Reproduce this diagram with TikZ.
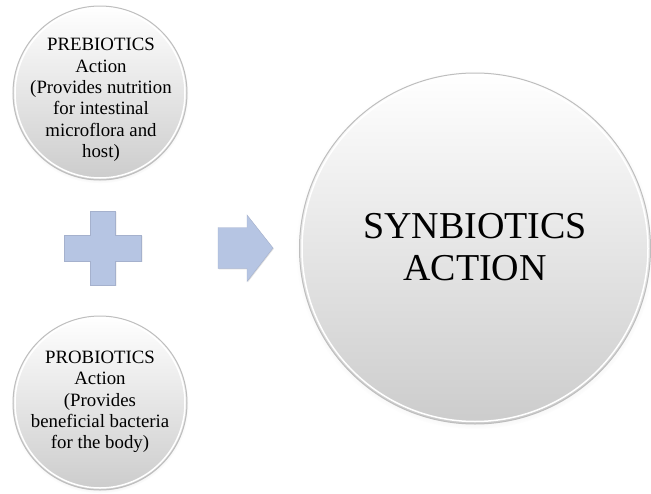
\documentclass[tikz,border=0pt]{standalone}
\usepackage{fontspec}
\setmainfont{Liberation Serif}
\usetikzlibrary{shadows}
\definecolor{shapeblue}{RGB}{182,197,227}
\definecolor{shapeedge}{RGB}{165,177,205}
\definecolor{rimgray}{RGB}{190,190,190}
\begin{document}
\begin{tikzpicture}[x=1pt,y=-1pt,
  bubble/.style={circle, inner sep=0pt, top color=white, bottom color=black!20,
    draw=rimgray, line width=1pt,
    circular drop shadow={shadow xshift=0pt, shadow yshift=-1.5pt, opacity=0.25, shadow scale=1.02}},
  rim/.style={circle, inner sep=0pt, draw=white, line width=1.5pt},
  smalltext/.style={align=center, inner sep=0pt, font=\fontsize{18.8}{21.3}\selectfont},
  bigtext/.style={align=center, inner sep=0pt, font=\fontsize{38}{42}\selectfont},
  symbol/.style={fill=shapeblue, draw=shapeedge, line width=0.4pt,
    drop shadow={shadow xshift=0.8pt, shadow yshift=-0.8pt, opacity=0.25}}]

\fill[white] (0,0) rectangle (651,493);
\useasboundingbox (0,0) rectangle (651,493);

% the three discs
\node[bubble, minimum size=174pt] (pre) at (100,93) {};
\node[rim, minimum size=170pt] at (pre.center) {};
\node[smalltext] (pretext) at (101,100)
  {PREBIOTICS\\Action\\(Provides nutrition\\for intestinal\\microflora and\\host)};

\node[bubble, minimum size=174pt] (pro) at (100,403) {};
\node[rim, minimum size=170pt] at (pro.center) {};
\node[smalltext] (protext) at (100,402)
  {PROBIOTICS\\Action\\(Provides\\beneficial bacteria\\for the body)};

\node[bubble, minimum size=351pt] (syn) at (475,248.5) {};
\node[rim, minimum size=346pt] at (syn.center) {};
\node[bigtext] (syntext) at (475,247) {SYNBIOTICS\\ACTION};

% plus sign between the two small discs
\coordinate (plus) at (103,248);
\path[symbol, shift={(plus)}]
  (-12.5,-37) -- (12.5,-37) -- (12.5,-13) -- (38.5,-13) -- (38.5,13)
  -- (12.5,13) -- (12.5,37) -- (-12.5,37) -- (-12.5,13) -- (-39,13)
  -- (-39,-13) -- (-12.5,-13) -- cycle;

% block arrow pointing at the large disc
\coordinate (arrow) at (218,248);
\path[symbol, shift={(arrow)}]
  (0,-20.5) -- (29,-20.5) -- (29,-33) -- (55,0) -- (29,33.5)
  -- (29,20.5) -- (0,20.5) -- cycle;
\end{tikzpicture}
\end{document}
